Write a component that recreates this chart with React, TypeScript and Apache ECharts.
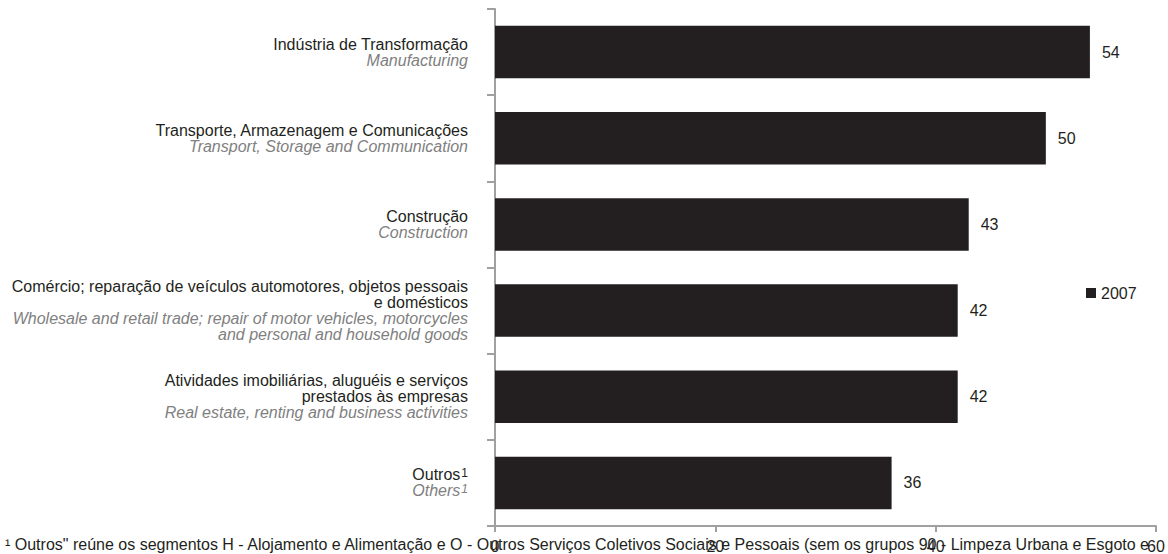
import React, { useEffect, useRef } from "react";
import * as echarts from "echarts";

const categoriesPt = [
  "Indústria de Transformação",
  "Transporte, Armazenagem e Comunicações",
  "Construção",
  "Comércio; reparação de veículos automotores, objetos pessoais\ne domésticos",
  "Atividades imobiliárias, aluguéis e serviços\nprestados às empresas",
  "Outros",
];
const categoriesEn = [
  "Manufacturing",
  "Transport, Storage and Communication",
  "Construction",
  "Wholesale and retail trade; repair of motor vehicles, motorcycles\nand personal and household goods",
  "Real estate, renting and business activities",
  "Others",
];
const supMark = [false, false, false, false, false, true];
const values2007 = [54, 50, 43, 42, 42, 36];
const seriesName = "2007";
const xTicks = [0, 20, 40, 60];
const footnote =
  "¹ Outros\" reúne os segmentos H - Alojamento e Alimentação e O - Outros Serviços Coletivos Sociais e Pessoais (sem os grupos 90 - Limpeza Urbana e Esgoto e";

const FONT = "'Liberation Sans', Arial, Helvetica, sans-serif";

export default function App() {
  const ref = useRef<HTMLDivElement>(null);
  useEffect(() => {
    if (!ref.current) return;
    const chart = echarts.init(ref.current, undefined, { renderer: "svg" });
    const cats = categoriesPt.map((_, i) => String(i));
    chart.setOption({
      animation: false,
      textStyle: { fontFamily: FONT },
      grid: { left: 495, right: 12, top: 9, bottom: 26, containLabel: false },
      legend: {
        data: [seriesName],
        left: 1081,
        top: 280,
        orient: "vertical",
        itemWidth: 10,
        itemHeight: 10,
        itemGap: 10,
        icon: "rect",
        textStyle: { fontFamily: FONT, fontSize: 16, color: "#231f20" },
      },
      xAxis: {
        type: "value",
        min: xTicks[0],
        max: xTicks[xTicks.length - 1],
        interval: 20,
        splitLine: { show: false },
        axisLine: { show: true, lineStyle: { color: "#a0a0a0", width: 2 } },
        axisTick: { show: true, length: 6, lineStyle: { color: "#a0a0a0", width: 2 } },
        axisLabel: { fontFamily: FONT, fontSize: 16, color: "#231f20", margin: 12 },
      },
      yAxis: {
        type: "category",
        inverse: true,
        data: cats,
        axisLine: { show: true, lineStyle: { color: "#a0a0a0", width: 2 } },
        axisTick: { show: true, length: 8, alignWithLabel: false, lineStyle: { color: "#a0a0a0", width: 2 } },
        axisLabel: {
          margin: 27,
          align: "right",
          fontFamily: FONT,
          formatter: (v: string) => {
            const i = Number(v);
            const pt = categoriesPt[i].split("\n").map((l, k, arr) =>
              `{a|${l}}` + (supMark[i] && k === arr.length - 1 ? "{as|1}" : "")
            );
            const en = categoriesEn[i].split("\n").map((l, k, arr) =>
              `{b|${l}}` + (supMark[i] && k === arr.length - 1 ? "{bs|1}" : "")
            );
            return [...pt, ...en].join("\n");
          },
          rich: {
            a: { fontFamily: FONT, fontSize: 16, color: "#231f20", lineHeight: 16 },
            b: { fontFamily: FONT, fontSize: 16, color: "#808080", fontStyle: "italic", lineHeight: 16 },
            as: { fontFamily: FONT, fontSize: 12, color: "#231f20", lineHeight: 16, verticalAlign: "top", padding: [0, 0, 8, 1] },
            bs: { fontFamily: FONT, fontSize: 12, color: "#808080", fontStyle: "italic", lineHeight: 16, verticalAlign: "top", padding: [0, 0, 8, 1] },
          },
        },
      },
      series: [
        {
          name: seriesName,
          type: "bar",
          data: values2007,
          barCategoryGap: "39%",
          itemStyle: { color: "#231f20" },
          label: {
            show: true,
            position: "right",
            distance: 12,
            fontFamily: FONT,
            fontSize: 16,
            color: "#231f20",
          },
        },
      ],
      graphic: [
        {
          type: "text",
          left: 5,
          top: 536,
          style: { text: footnote, fontFamily: FONT, fontSize: 16, fill: "#231f20" },
        },
      ],
    });
    return () => chart.dispose();
  }, []);
  return <div ref={ref} style={{ width: 1168, height: 554, position: "absolute", left: 0, top: 0 }} />;
}
